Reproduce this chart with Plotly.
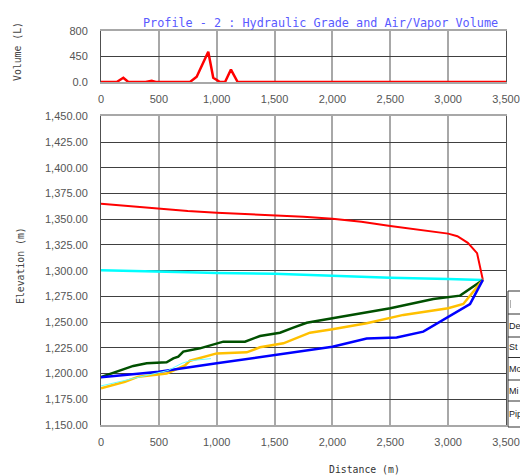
import plotly.graph_objects as go

# ---- data ----
d_vol = [0, 136, 193, 236, 386, 438, 473, 769, 827, 927, 970, 1028, 1072, 1123, 1181, 3500]
v_vol = [0, 0, 67, 0, 0, 20, 0, 0, 83, 475, 67, 0, 0, 195, 0, 0]

d_red = [0, 250, 500, 750, 1000, 1250, 1500, 1750, 2000, 2250, 2500, 2750, 3000, 3080, 3170, 3250, 3300]
h_red = [1365, 1362.5, 1360, 1358, 1356.3, 1355.2, 1354, 1352.5, 1350.5, 1347.5, 1343.5, 1339.5, 1336, 1333.5, 1327, 1317, 1291]

d_cyan = [0, 250, 500, 750, 1000, 1500, 2000, 2500, 3000, 3300]
h_cyan = [1300.5, 1300, 1299, 1298.5, 1297.7, 1297, 1295, 1293, 1292, 1291]

d_blue = [0, 500, 1000, 1374, 1500, 2000, 2296, 2555, 2785, 3000, 3189, 3300]
h_blue = [1196.5, 1201.8, 1210, 1215.8, 1218, 1226, 1234, 1235, 1240.7, 1255, 1267.6, 1291]

d_green = [0, 164, 279, 395, 567, 625, 668, 711, 855, 1057, 1244, 1374, 1547, 1662, 1778, 2000, 2500, 2872, 3103, 3300]
h_green = [1196.5, 1202.5, 1207.4, 1210, 1211, 1214.8, 1216.4, 1221.3, 1224.5, 1231, 1231, 1236.5, 1239.7, 1244.6, 1249.4, 1253.7, 1263.4, 1272.4, 1275.7, 1291]

d_yel = [0, 207, 323, 567, 654, 726, 769, 1000, 1259, 1374, 1576, 1806, 2000, 2296, 2613, 3000, 3131, 3300]
h_yel = [1185.7, 1192, 1197, 1200, 1204.4, 1208, 1212.5, 1219.6, 1220.6, 1225.5, 1229.4, 1239.7, 1243, 1248.8, 1257, 1263.4, 1267.6, 1291]

d_thin = [0, 200, 400, 580, 700, 770, 950]
h_thin = [1188, 1193, 1198, 1203, 1210, 1212.5, 1214.5]

x_ticks = [0, 500, 1000, 1500, 2000, 2500, 3000, 3500]
vol_tickvals = [0, 400, 800]
vol_ticktext = ["0.0", "450", "800"]
elev_ticks = [1150 + 25 * i for i in range(13)]

# only the left edge of the legend table is visible in the window
legend_rows = ["", "De", "St", "Mo", "Mi", "Pip"]

# ---- layout geometry (pixels) ----
W, H = 520, 476
L, R, T, B = 101, 506, 31, 425
pw, ph = R - L, B - T

def px(p):
    return (p - L) / pw

def py(p):
    return (B - p) / ph

fig = go.Figure()

fig.add_trace(go.Scatter(x=d_vol, y=v_vol, mode="lines", line=dict(color="#ff0000", width=2.5),
                         xaxis="x", yaxis="y", showlegend=False))

for xs, ys, col, w in [
    (d_red, h_red, "#ff0000", 2),
    (d_cyan, h_cyan, "#00ffff", 2.5),
    (d_green, h_green, "#005000", 2.5),
    (d_yel, h_yel, "#ffc000", 2.5),
    (d_blue, h_blue, "#0000ff", 2.5),
    (d_thin, h_thin, "#66ffff", 1),
]:
    fig.add_trace(go.Scatter(x=xs, y=ys, mode="lines", line=dict(color=col, width=w),
                             xaxis="x2", yaxis="y2", showlegend=False))

tickfont = dict(family="Liberation Sans", size=11, color="#555555")
xcommon = dict(range=[0, 3500], tickvals=x_ticks, tickformat=",d", showgrid=True,
               gridcolor="#a8a8a8", gridwidth=2, zeroline=False, ticks="outside", ticklen=6,
               tickcolor="rgba(0,0,0,0)", tickfont=tickfont, showline=True, linecolor="#a8a8a8",
               linewidth=2, mirror=True, automargin=False)
ycommon = dict(showgrid=True, gridcolor="#404040", gridwidth=1, zeroline=False, ticks="outside",
               ticklen=10, tickcolor="rgba(0,0,0,0)", tickfont=tickfont, showline=True,
               linecolor="#505050", linewidth=1, mirror=True, automargin=False)

top_lo = py(82)
bot_hi = py(116.3)

fig.update_layout(
    width=W, height=H, autosize=False,
    margin=dict(l=L, r=W - R, t=T, b=H - B, pad=0, autoexpand=False),
    paper_bgcolor="white", plot_bgcolor="white",
    xaxis=dict(domain=[0, 1], anchor="y", **xcommon),
    yaxis=dict(domain=[top_lo, 1], anchor="x", range=[0, 800], tickvals=vol_tickvals,
               ticktext=vol_ticktext, **ycommon),
    xaxis2=dict(domain=[0, 1], anchor="y2", **xcommon),
    yaxis2=dict(domain=[0, bot_hi], anchor="x2", range=[1150, 1450], tickvals=elev_ticks,
                tickformat=",.2f", **ycommon),
)

mono = "DejaVu Sans Mono"
annos = [
    dict(text="Profile - 2 : Hydraulic Grade and Air/Vapor Volume", x=px(320.5), y=py(23),
         font=dict(family=mono, size=11.8, color="#5a5aff")),
    dict(text="Distance (m)", x=px(364), y=py(469), font=dict(family=mono, size=9.8, color="#333333")),
    dict(text="Volume (L)", x=px(17), y=py(52), textangle=-90,
         font=dict(family=mono, size=9.8, color="#444444")),
    dict(text="Elevation (m)", x=px(20), y=py(266), textangle=-90,
         font=dict(family=mono, size=9.8, color="#444444")),
]
for a in annos:
    fig.add_annotation(xref="paper", yref="paper", showarrow=False, xanchor="center",
                       yanchor="middle", **a)

# partially visible legend table at the right edge
row_lines = [291, 314, 337, 357.5, 380, 401, 427]
fig.add_shape(type="rect", xref="paper", yref="paper", x0=px(508), x1=px(560),
              y0=py(427), y1=py(291), line=dict(color="#303030", width=1), fillcolor="white")
for yy in row_lines[1:-1]:
    fig.add_shape(type="line", xref="paper", yref="paper", x0=px(508), x1=px(560),
                  y0=py(yy), y1=py(yy), line=dict(color="#303030", width=1))
fig.add_shape(type="line", xref="paper", yref="paper", x0=px(510.5), x1=px(510.5),
              y0=py(308), y1=py(300), line=dict(color="#b0b0b0", width=1))
for i, label in enumerate(legend_rows):
    if not label:
        continue
    yc = (row_lines[i] + row_lines[i + 1]) / 2
    fig.add_annotation(xref="paper", yref="paper", showarrow=False, xanchor="left",
                       yanchor="middle", x=px(508), y=py(yc), text=label, borderpad=0,
                       font=dict(family="Liberation Sans", size=9, color="#222222"))

fig.write_html("out.html")
